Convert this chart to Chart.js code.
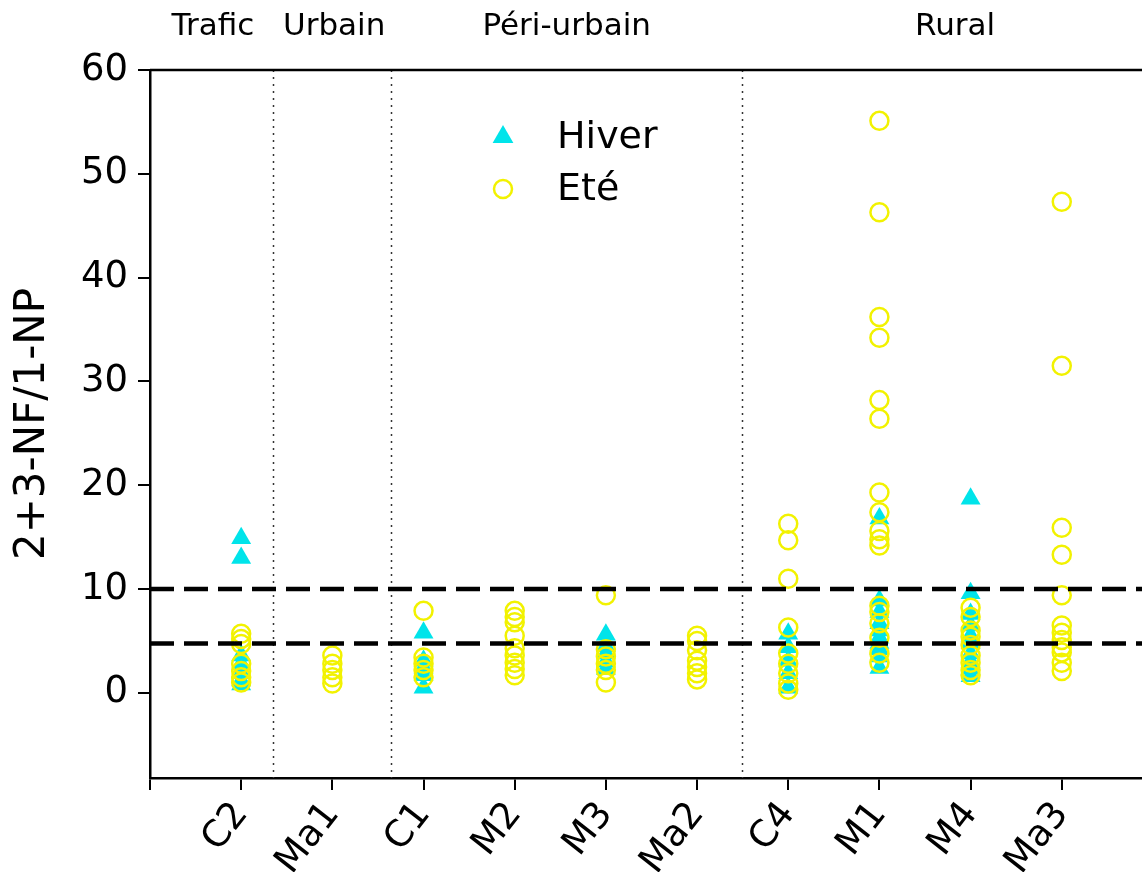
<!DOCTYPE html>
<html>
<head>
<meta charset="utf-8">
<script src="https://cdn.jsdelivr.net/npm/chart.js@4.4.1/dist/chart.umd.min.js"></script>
<style>
  html, body { margin: 0; padding: 0; background: #fff; }
  #wrap { width: 1142px; height: 872px; position: relative; }
</style>
</head>
<body>
<div id="wrap"><canvas id="c" width="1142" height="872"></canvas></div>
<script>
// ---- data ----
const categories = ['C2', 'Ma1', 'C1', 'M2', 'M3', 'Ma2', 'C4', 'M1', 'M4', 'Ma3'];
const hiverValues = [
  [14.9, 13.0, 3.6, 2.8, 1.9, 1.2, 0.8],          // C2
  [],                                             // Ma1
  [5.8, 3.1, 2.4, 1.7, 0.5],                      // C1
  [],                                             // M2
  [5.6, 4.5, 3.8, 3.0, 2.3],                      // M3
  [],                                             // Ma2
  [5.7, 4.4, 3.1, 1.9, 0.5],                      // C4
  [16.8, 8.9, 7.8, 6.7, 6.0, 5.3, 4.8, 4.2, 3.5, 2.4], // M1
  [18.7, 9.6, 7.6, 6.5, 5.5, 4.8, 3.8, 3.0, 2.3, 1.6], // M4
  []                                              // Ma3
];
const eteValues = [
  [5.7, 5.2, 4.7, 2.8, 2.1, 1.5, 1.0],            // C2
  [3.6, 2.8, 2.2, 1.5, 0.9],                      // Ma1
  [7.9, 3.4, 2.8, 2.2, 1.5],                      // C1
  [7.9, 7.3, 6.8, 5.5, 4.3, 3.6, 2.9, 2.3, 1.7],  // M2
  [9.4, 4.2, 3.5, 2.8, 2.2, 1.0],                 // M3
  [5.5, 5.0, 4.1, 3.1, 2.5, 1.9, 1.3],            // Ma2
  [16.3, 14.7, 11.0, 6.3, 3.8, 2.8, 1.9, 0.9, 0.3], // C4
  [55.1, 46.3, 36.2, 34.2, 28.2, 26.4, 19.3, 17.4, 15.6, 14.8, 14.2, 8.4, 7.8, 6.7, 5.3, 3.8, 2.9], // M1
  [8.2, 7.3, 6.0, 5.4, 4.6, 3.6, 2.9, 2.2, 1.7],  // M4
  [47.3, 31.5, 15.9, 13.3, 9.4, 6.5, 5.8, 5.1, 4.4, 3.9, 2.9, 2.1] // Ma3
];
const yTickValues = [0, 10, 20, 30, 40, 50, 60];
const groupLabels = ['Trafic', 'Urbain', 'Péri-urbain', 'Rural'];
const groupCenters = [0.69, 2.02, 4.57, 8.83];
const groupDividers = [1.35, 2.64, 6.49];
const thresholds = [10, 4.75];
const seriesNames = ['Hiver', 'Eté'];

// ---- build chart ----
function toPoints(values) {
  const pts = [];
  values.forEach((arr, i) => arr.forEach(v => pts.push({ x: i + 1, y: v })));
  return pts;
}
const CYAN = '#00e4ea';
const YELLOW = '#f2f200';
const FONT = "'DejaVu Sans', 'Liberation Sans', Arial, sans-serif";

const overlay = {
  id: 'overlay',
  beforeDatasetsDraw(chart) {
    const { ctx, chartArea, scales } = chart;
    ctx.save();
    ctx.strokeStyle = '#333';
    ctx.lineWidth = 1.5;
    ctx.setLineDash([2, 5]);
    groupDividers.forEach(d => {
      const x = Math.round(scales.x.getPixelForValue(d)) + 0.5;
      ctx.beginPath();
      ctx.moveTo(x, chartArea.top);
      ctx.lineTo(x, chartArea.bottom);
      ctx.stroke();
    });
    ctx.restore();
  },
  afterDatasetsDraw(chart) {
    const { ctx, chartArea, scales } = chart;
    ctx.save();
    ctx.strokeStyle = '#000';
    ctx.lineWidth = 4.5;
    ctx.setLineDash([24, 10]);
    thresholds.forEach(t => {
      const y = scales.y.getPixelForValue(t);
      ctx.beginPath();
      ctx.moveTo(chartArea.left, y);
      ctx.lineTo(chartArea.right, y);
      ctx.stroke();
    });
    ctx.setLineDash([]);
    ctx.lineWidth = 2.5;
    ctx.beginPath();
    ctx.moveTo(chartArea.left, chartArea.top);
    ctx.lineTo(chartArea.right, chartArea.top);
    ctx.stroke();
    // group headers
    ctx.fillStyle = '#000';
    ctx.font = '31px ' + FONT;
    ctx.textAlign = 'center';
    ctx.textBaseline = 'middle';
    groupLabels.forEach((g, i) => {
      ctx.fillText(g, scales.x.getPixelForValue(groupCenters[i]), 27);
    });
    // legend
    const lx = 503;
    const ly = [137, 189];
    ctx.fillStyle = CYAN;
    const r = 12;
    ctx.beginPath();
    ctx.moveTo(lx, ly[0] - r);
    ctx.lineTo(lx + r * Math.sin(Math.PI / 3), ly[0] + r / 2);
    ctx.lineTo(lx - r * Math.sin(Math.PI / 3), ly[0] + r / 2);
    ctx.closePath();
    ctx.fill();
    ctx.strokeStyle = YELLOW;
    ctx.lineWidth = 2.5;
    ctx.beginPath();
    ctx.arc(lx, ly[1], 9, 0, Math.PI * 2);
    ctx.stroke();
    ctx.fillStyle = '#000';
    ctx.font = '38px ' + FONT;
    ctx.textAlign = 'left';
    seriesNames.forEach((n, i) => ctx.fillText(n, 557, ly[i] + 1));
    ctx.restore();
  }
};

new Chart(document.getElementById('c'), {
  type: 'scatter',
  data: {
    datasets: [
      {
        label: seriesNames[0],
        data: toPoints(hiverValues),
        pointStyle: 'triangle',
        pointRadius: 11.5,
        pointBackgroundColor: CYAN,
        pointBorderColor: CYAN,
        pointBorderWidth: 0,
        order: 2
      },
      {
        label: seriesNames[1],
        data: toPoints(eteValues),
        pointStyle: 'circle',
        pointRadius: 9,
        pointBackgroundColor: 'rgba(0,0,0,0)',
        pointBorderColor: YELLOW,
        pointBorderWidth: 2.5,
        order: 1
      }
    ]
  },
  plugins: [overlay],
  options: {
    responsive: false,
    devicePixelRatio: 1,
    animation: false,
    layout: { autoPadding: false, padding: { top: 70, right: 0, left: 0, bottom: 0 } },
    plugins: { legend: { display: false }, tooltip: { enabled: false } },
    scales: {
      x: {
        type: 'linear',
        min: 0,
        max: 10.88,
        afterBuildTicks(scale) {
          scale.ticks = [0, 1, 2, 3, 4, 5, 6, 7, 8, 9, 10].map(v => ({ value: v }));
        },
        afterFit(scale) { scale.height = 94; },
        ticks: {
          autoSkip: false,
          minRotation: 52,
          maxRotation: 52,
          padding: 4,
          color: '#000',
          font: { family: FONT, size: 37 },
          callback: v => (v >= 1 && v <= categories.length) ? categories[v - 1] : ''
        },
        grid: { drawOnChartArea: false, drawTicks: true, tickLength: 12, color: '#000', lineWidth: 2 },
        border: { display: true, color: '#000', width: 2.5 }
      },
      y: {
        min: -8.2,
        max: 60,
        afterBuildTicks(scale) {
          scale.ticks = yTickValues.map(v => ({ value: v }));
        },
        afterFit(scale) { scale.width = 150; },
        ticks: {
          color: '#000',
          padding: 10,
          font: { family: FONT, size: 37 }
        },
        grid: { drawOnChartArea: false, drawTicks: true, tickLength: 12, color: '#000', lineWidth: 2 },
        border: { display: true, color: '#000', width: 2.5 },
        title: {
          display: true,
          text: '2+3-NF/1-NP',
          color: '#000',
          font: { family: FONT, size: 42 },
          padding: { top: 8, bottom: 0 }
        }
      }
    }
  }
});
</script>
</body>
</html>
